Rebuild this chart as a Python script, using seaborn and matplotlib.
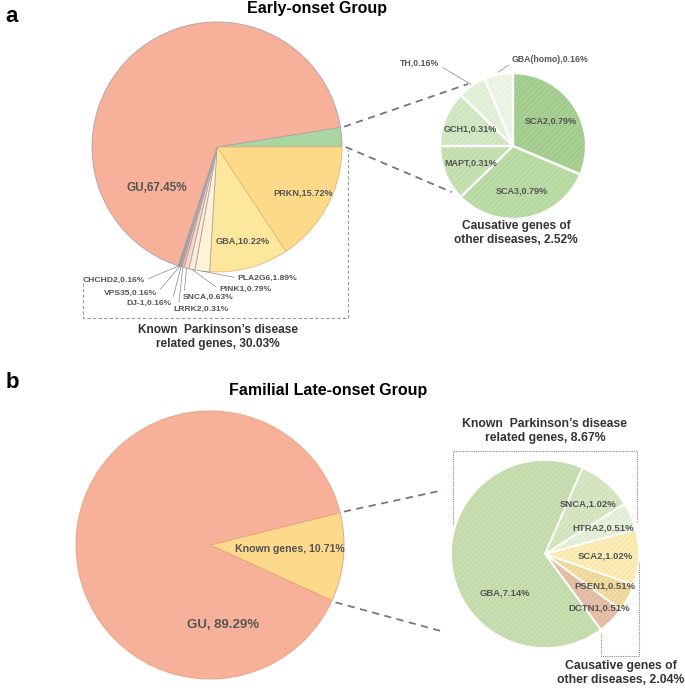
import matplotlib.pyplot as plt
import numpy as np
import seaborn as sns

sns.set_theme(style="white")
plt.rcParams['font.family'] = ['Liberation Sans', 'DejaVu Sans']
plt.rcParams['hatch.linewidth'] = 0.35

# ---- data ----
# a: early-onset group, outer pie (first slice = causative genes of other diseases)
a_labels = ["Other", "PRKN", "GBA", "PLA2G6", "PINK1", "SNCA", "LRRK2", "DJ-1", "VPS35", "CHCHD2", "GU"]
a_values = [2.52, 15.72, 10.22, 1.89, 0.79, 0.63, 0.31, 0.16, 0.16, 0.16, 67.45]
# a: causative genes of other diseases
a_other_labels = ["SCA2", "SCA3", "MAPT", "GCH1", "TH", "GBA(homo)"]
a_other_values = [0.79, 0.79, 0.31, 0.31, 0.16, 0.16]
# b: familial late-onset group
b_labels = ["Known genes", "GU"]
b_values = [10.71, 89.29]
b_known_labels = ["SNCA", "HTRA2", "SCA2", "PSEN1", "DCTN1", "GBA"]
b_known_values = [1.02, 0.51, 1.02, 0.51, 0.51, 7.14]

a_known_total = 30.03
a_other_total = 2.52
b_pd_total = 8.67
b_other_total = 2.04

W, H = 685, 688
TXT = "#555555"
DARK = "#333333"


def P(x, y):
    # pixel position (y down) -> axes data (y up)
    return x, H - y


def pt(center, r, ang, f=1.0):
    t = np.deg2rad(ang)
    return center[0] + f * r * np.cos(t), center[1] + f * r * np.sin(t)


def mid(w):
    return 0.5 * (w.theta1 + w.theta2)


fig = plt.figure(figsize=(W / 100, H / 100), dpi=100)
ax = fig.add_axes([0, 0, 1, 1])

# ================= panel a =================
ca, ra = P(217, 147), 125
a_colors = ["#a9d5a0", "#fdd98a", "#fde79c", "#fef3d4", "#fdebd8", "#f9d6c6",
            "#f2bfa8", "#a89a8c", "#7f8ea0", "#5a6a80", "#f7b19a"]
wa, _ = ax.pie(a_values, colors=a_colors, startangle=a_values[0] / sum(a_values) * 360,
               counterclock=False, center=ca, radius=ra,
               wedgeprops=dict(edgecolor="#ada2a8", linewidth=0.6))
for w in wa[1:3]:
    w.set_edgecolor("#e6b873")

name = dict(zip(a_labels, wa))
ax.text(*pt(ca, ra, 214, 0.58), f"GU,{a_values[-1]:.2f}%", ha="center", va="center",
        fontsize=8.5, fontweight="bold", color=TXT)
for lab in ["PRKN", "GBA"]:
    v = a_values[a_labels.index(lab)]
    ax.text(*pt(ca, ra, mid(name[lab]), 0.78), f"{lab},{v:.2f}%", ha="center", va="center",
            fontsize=6.6, fontweight="bold", color=TXT)

lead = {"PLA2G6": ((237, 278), "left", (0, 0.5)),
        "PINK1": ((219, 289), "left", (0, 0.5)),
        "SNCA": ((183, 297), "left", (0.02, 0.7)),
        "LRRK2": ((173, 309), "left", (0.1, 0.9)),
        "DJ-1": ((172, 303), "right", (1, 0.7)),
        "VPS35": ((157, 293), "right", (1, 0.5)),
        "CHCHD2": ((145, 280), "right", (1, 0.5))}
for lab, (xy, ha, rp) in lead.items():
    v = a_values[a_labels.index(lab)]
    ax.annotate(f"{lab},{v:.2f}%", xy=pt(ca, ra, mid(name[lab]), 1.0), xytext=P(*xy),
                ha=ha, va="center", fontsize=6.1, fontweight="bold", color=TXT,
                arrowprops=dict(arrowstyle="-", color="#888888", lw=0.5, relpos=rp,
                                shrinkA=0, shrinkB=0))

# dashed bracket around known PD genes
bx0, bx1 = ca[0] - 1.07 * ra, ca[0] + 1.05 * ra
by0 = ca[1] - 1.37 * ra
ax.plot([bx0, bx0, bx1, bx1], [ca[1] - 1.09 * ra, by0, by0, ca[1] - 0.02 * ra],
        ls=(0, (3, 2)), color="#9a9a9a", lw=0.8)
ax.text(*P(218, 337), f"Known  Parkinson\u2019s disease\nrelated genes, {a_known_total:.2f}%",
        ha="center", va="center", fontsize=8.6, fontweight="bold", color=DARK, linespacing=1.2)

# zoomed pie of other diseases
csa, rsa = P(513, 146), 73
so_colors = ["#a8cf94", "#bcdca7", "#c6e1b2", "#d3e8c4", "#e3f0da", "#edf5e7"]
so_hatch = ["#93bd7e", "#a6cc90", "#b2d29d", "#c0dbae", "#d2e6c6", "#dcebd2"]
ws, _ = ax.pie(a_other_values, colors=so_colors, startangle=90, counterclock=False,
               center=csa, radius=rsa, wedgeprops=dict(linewidth=0))
for w, hc in zip(ws, so_hatch):
    w.set_hatch("//////")
    w.set_edgecolor(hc)
    w.set_linewidth(0)
ax.pie(a_other_values, colors=["none"] * 6, startangle=90, counterclock=False,
       center=csa, radius=rsa, wedgeprops=dict(edgecolor="white", linewidth=1.6))
for w, lab, v in zip(ws[:4], a_other_labels[:4], a_other_values[:4]):
    ax.text(*pt(csa, rsa, mid(w), 0.63), f"{lab},{v:.2f}%", ha="center", va="center",
            fontsize=6.5, fontweight="bold", color=TXT)
ax.annotate(f"TH,{a_other_values[4]:.2f}%", xy=pt(csa, rsa, mid(ws[4]), 1.02),
            xytext=P(420, 63), ha="center", va="center", fontsize=6.3, fontweight="bold",
            color=TXT,
            arrowprops=dict(arrowstyle="-", color="#888888", lw=0.5, relpos=(1, 0.2),
                            shrinkA=0, shrinkB=0))
ax.annotate(f"GBA(homo),{a_other_values[5]:.2f}%", xy=pt(csa, rsa, mid(ws[5]), 1.03),
            xytext=P(512, 60), ha="left", va="center", fontsize=6.3, fontweight="bold",
            color=TXT,
            arrowprops=dict(arrowstyle="-", color="#888888", lw=0.5, relpos=(0, 0.2),
                            shrinkA=0, shrinkB=0))
ax.text(*P(516, 233), f"Causative genes of\nother diseases, {a_other_total:.2f}%",
        ha="center", va="center", fontsize=8.6, fontweight="bold", color=DARK, linespacing=1.2)

# connectors
g = wa[0]
for a1, a2 in [(g.theta2, 126), (g.theta1, -143)]:
    p1, p2 = pt(ca, ra, a1, 1.03), pt(csa, rsa, a2, 1.05)
    ax.plot([p1[0], p2[0]], [p1[1], p2[1]], ls=(0, (4, 3)), color="#777777", lw=1.3)

# ================= panel b =================
cb, rb = P(210, 545), 134
wb, _ = ax.pie(b_values, colors=["#fdd98c", "#f7b19a"], startangle=14, counterclock=False,
               center=cb, radius=rb, wedgeprops=dict(edgecolor="#e8a77c", linewidth=0.7))
ax.text(*P(290, 549), f"{b_labels[0]}, {b_values[0]:.2f}%", ha="center", va="center",
        fontsize=7.6, fontweight="bold", color=TXT)
ax.text(*P(223, 625), f"{b_labels[1]}, {b_values[1]:.2f}%", ha="center", va="center",
        fontsize=9.5, fontweight="bold", color=TXT)

csb, rsb = P(545, 554), 94
sk_colors = ["#d6e6c2", "#e6f0db", "#fcecb6", "#f1dca0", "#e6c0a8", "#c8deb0"]
sk_hatch = ["#c3d9ab", "#d3e4c4", "#f0dc98", "#e2c980", "#d6aa90", "#b3cf98"]
wk, _ = ax.pie(b_known_values, colors=sk_colors, startangle=66.5, counterclock=False,
               center=csb, radius=rsb, wedgeprops=dict(linewidth=0))
for w, hc in zip(wk, sk_hatch):
    w.set_hatch("//////")
    w.set_edgecolor(hc)
    w.set_linewidth(0)
ax.pie(b_known_values, colors=["none"] * 6, startangle=66.5, counterclock=False,
       center=csb, radius=rsb, wedgeprops=dict(edgecolor="white", linewidth=1.2))
fr = [0.7, 0.68, 0.64, 0.72, 0.82]
for w, lab, v, f in zip(wk[:5], b_known_labels[:5], b_known_values[:5], fr):
    ax.text(*pt(csb, rsb, mid(w), f), f"{lab},{v:.2f}%", ha="center", va="center",
            fontsize=6.8, fontweight="bold", color=TXT)
ax.text(*pt(csb, rsb, -136, 0.59), f"{b_known_labels[5]},{b_known_values[5]:.2f}%",
        ha="center", va="center", fontsize=6.8, fontweight="bold", color=TXT)

# dotted brackets
kx0, kx1 = csb[0] - 0.98 * rsb, csb[0] + 0.98 * rsb
ky = csb[1] + 1.1 * rsb
ax.plot([kx0, kx0, kx1, kx1], [csb[1] + 0.32 * rsb, ky, ky, csb[1] + 0.34 * rsb],
        ls=(0, (1, 1)), color="#888888", lw=0.8)
ax.text(*P(545, 431), f"Known  Parkinson\u2019s disease\nrelated genes, {b_pd_total:.2f}%",
        ha="center", va="center", fontsize=8.8, fontweight="bold", color=DARK, linespacing=1.2)
ox0, ox1 = csb[0] + 0.6 * rsb, csb[0] + 1.0 * rsb
oy = csb[1] - 1.09 * rsb
ax.plot([ox0, ox0, ox1, ox1], [csb[1] - 0.84 * rsb, oy, oy, csb[1] - 0.1 * rsb],
        ls=(0, (1, 1)), color="#888888", lw=0.8)
ax.text(*P(621, 673), f"Causative genes of\nother diseases, {b_other_total:.2f}%",
        ha="center", va="center", fontsize=8.8, fontweight="bold", color=DARK, linespacing=1.2)

kw = wb[0]
for a1, a2, f in [(kw.theta2, 148, 1.28), (kw.theta1, -142, 1.35)]:
    p1, p2 = pt(cb, rb, a1, 1.03), pt(csb, rsb, a2, f)
    ax.plot([p1[0], p2[0]], [p1[1], p2[1]], ls=(0, (4, 3)), color="#777777", lw=1.3)

# titles and panel letters
ax.text(*P(317, 9), "Early-onset Group", ha="center", va="center", fontsize=11.5,
        fontweight="bold", color="black")
ax.text(*P(328, 390), "Familial Late-onset Group", ha="center", va="center", fontsize=11.5,
        fontweight="bold", color="black")
ax.text(*P(12, 17), "a", ha="center", va="center", fontsize=16, fontweight="bold", color="black")
ax.text(*P(12, 382), "b", ha="center", va="center", fontsize=16, fontweight="bold", color="black")

ax.set_xlim(0, W)
ax.set_ylim(0, H)
ax.set_aspect("equal")
ax.axis("off")
fig.savefig("out.png", dpi=100, facecolor="white")
